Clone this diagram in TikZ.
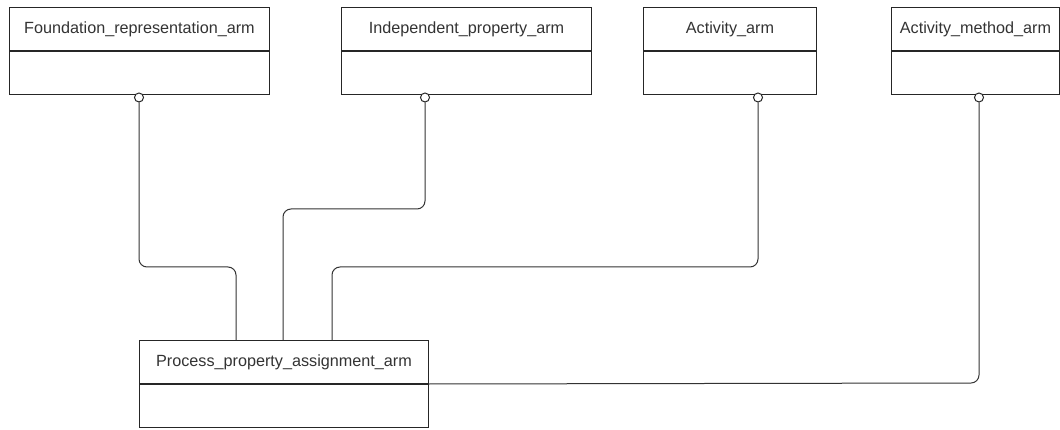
\documentclass[tikz,border=0pt]{standalone}
\usepackage{fontspec}
\setmainfont{Liberation Sans}
\begin{document}
\begin{tikzpicture}[x=1pt,y=-1pt,
  hdr/.style={draw=black!85, line width=1pt, minimum height=43pt, inner sep=0pt, anchor=north west, text=black!80, font=\fontsize{16.2}{19}\selectfont},
  body/.style={draw=black!85, line width=1pt, minimum height=43pt, inner sep=0pt, anchor=north west},
  ring/.style={circle, draw=black!85, line width=1pt, fill=white, minimum size=9pt, inner sep=0pt},
  conn/.style={draw=black!80, line width=1pt, rounded corners=8pt}]
\useasboundingbox (0,0) rectangle (1060,430);
% top classes
\node[hdr, minimum width=260pt] (f) at (9,7) {Foundation\_representation\_arm};
\node[body, minimum width=260pt] (fb) at (f.south west) {};
\node[hdr, minimum width=250pt] (i) at (341,7) {Independent\_property\_arm};
\node[body, minimum width=250pt] (ib) at (i.south west) {};
\node[hdr, minimum width=173pt] (a) at (643,7) {Activity\_arm};
\node[body, minimum width=173pt] (ab) at (a.south west) {};
\node[hdr, minimum width=168pt] (m) at (891,7) {Activity\_method\_arm};
\node[body, minimum width=168pt] (mb) at (m.south west) {};
% process class
\node[hdr, minimum width=289pt] (p) at (139,340) {Process\_property\_assignment\_arm};
\node[body, minimum width=289pt] (pb) at (p.south west) {};
% rings
\node[ring] (fr) at (139,97.5) {};
\node[ring] (ir) at (425,97.5) {};
\node[ring] (ar) at (758,97.5) {};
\node[ring] (mr) at (979,97.5) {};
% attachment points
\coordinate (p1) at (236,340);
\coordinate (p2) at (283,340);
\coordinate (p3) at (332,340);
% connectors
\draw[conn] (fr.south) -- (139,267) -- (236,267) -- (p1);
\draw[conn] (ir.south) -- (425,209) -- (283,209) -- (p2);
\draw[conn] (ar.south) -- (758,267) -- (332,267) -- (p3);
\draw[conn] (mr.south) -- (979,383) -- (p.south east);
\end{tikzpicture}
\end{document}
